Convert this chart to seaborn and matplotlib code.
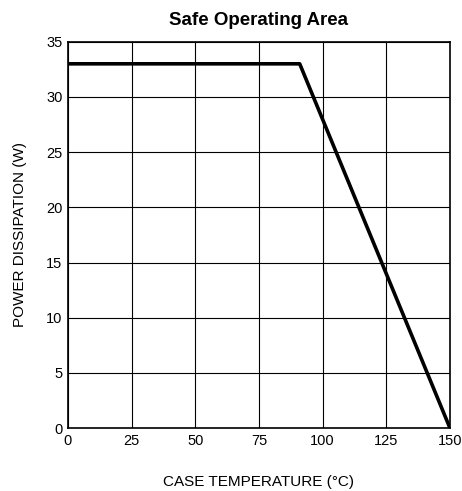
import numpy as np
import pandas as pd
import seaborn as sns
import matplotlib.pyplot as plt

# datos de la curva de disipacion
temp_c = [0, 91, 150]
power_w = [33, 33, 0]
x_ticks = [0, 25, 50, 75, 100, 125, 150]
y_ticks = [0, 5, 10, 15, 20, 25, 30, 35]

df = pd.DataFrame({'temp': temp_c, 'power': power_w})

sns.set_style('white', rc={'text.color': 'black', 'axes.labelcolor': 'black',
                           'xtick.color': 'black', 'ytick.color': 'black'})
plt.rcParams['font.family'] = ['Liberation Sans', 'DejaVu Sans']

fig = plt.figure(figsize=(4.62, 4.91), dpi=100)
ax = fig.add_axes([0.147, 0.128, 0.827, 0.787])

sns.lineplot(data=df, x='temp', y='power', color='black', linewidth=2.6, ax=ax)

ax.set_xlim(0, 150)
ax.set_ylim(0, 35)
ax.set_xticks(x_ticks)
ax.set_yticks(y_ticks)
ax.grid(True, color='black', linewidth=0.8)
for s in ax.spines.values():
    s.set_color('black')
    s.set_linewidth(1.2)
ax.tick_params(axis='both', labelsize=10.5, length=0, pad=4, colors='black')

ax.set_xlabel('CASE TEMPERATURE (°C)', size=11, labelpad=20, color='black')
ax.set_ylabel('POWER DISSIPATION (W)', size=11, labelpad=14, color='black')
ax.set_title('Safe Operating Area', size=13.5, weight='bold', pad=12, color='black')

plt.savefig('out.png', dpi=100)
